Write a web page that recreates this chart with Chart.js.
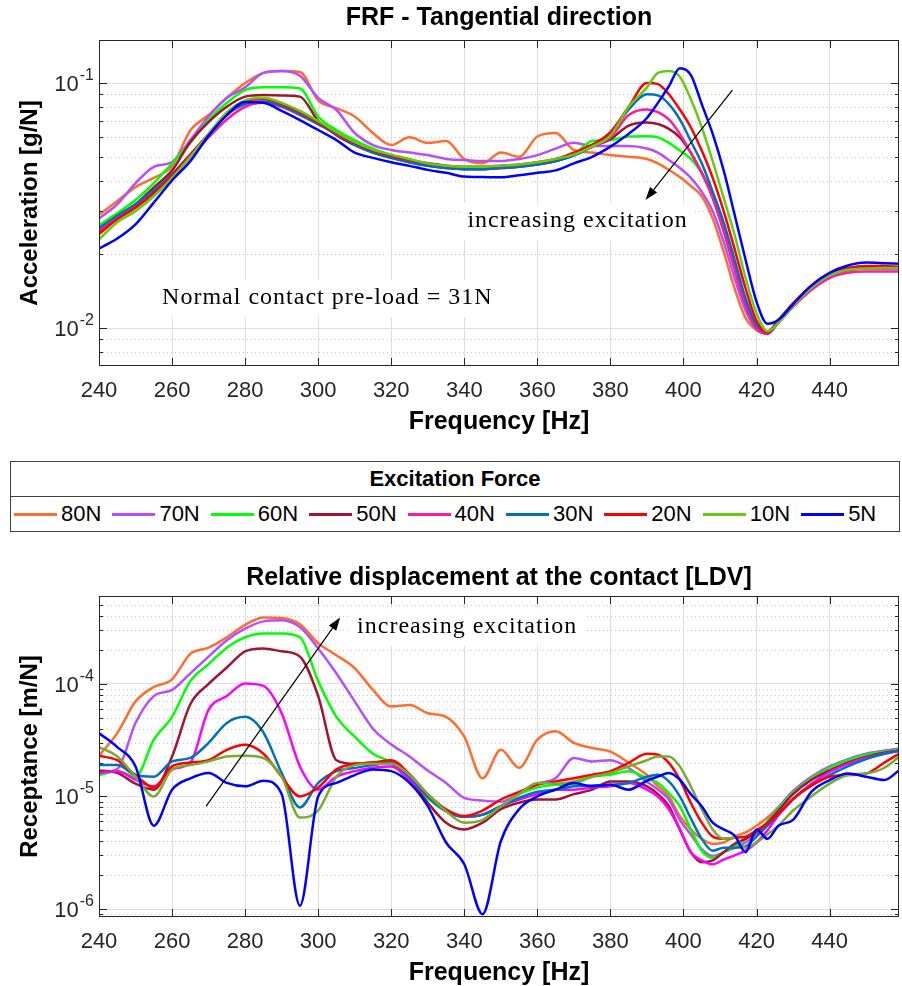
<!DOCTYPE html>
<html>
<head>
<meta charset="utf-8">
<script src="https://cdn.jsdelivr.net/npm/chart.js@4.4.1/dist/chart.umd.min.js"></script>
<style>
  html, body { margin: 0; padding: 0; background: #fff; }
  body { width: 902px; height: 986px; position: relative; overflow: hidden; }
  #accChart { position: absolute; left: 0; top: 0; }
  #recChart { position: absolute; left: 0; top: 560px; }
  #legend {
    position: absolute; left: 10px; top: 461px; width: 890px; height: 71px;
    border: 1.5px solid #404040; box-sizing: border-box; background: #fff;
    font-family: "Liberation Sans", Arial, sans-serif;
  }
  .lg-title {
    height: 34px; line-height: 34px; text-align: center; font-weight: bold; font-size: 22px;
    border-bottom: 1.5px solid #404040; color: #000;
  }
  .lg-items { display: flex; align-items: center; height: 34px; padding-left: 3px; }
  .lg-item { flex: none; width: 98.4px; display: flex; align-items: center; }
  .lg-swatch { width: 43px; height: 3px; margin-right: 4px; }
  .lg-label { font-size: 22px; color: #000; }
</style>
</head>
<body>
<canvas id="accChart" width="902" height="440"></canvas>
<div id="legend">
  <div class="lg-title">Excitation Force</div>
  <div class="lg-items" id="lgItems"></div>
</div>
<canvas id="recChart" width="902" height="426"></canvas>

<script>
// frekuensi (Hz)
const freq = [240,245,250,255,260,265,270,275,280,285,290,295,300,305,310,315,320,325,330,335,340,345,350,355,360,365,370,375,380,385,390,
  393,396,399,402,405,408,411,414,417,420,423,426,
  430,435,440,445,450,455,459];

const forces = ['80N','70N','60N','50N','40N','30N','20N','10N','5N'];
const topColors = ['#ff6c2e','#b64dff','#00ff00','#a2142f','#ff1aa0','#0072bd','#ff0000','#66cc11','#0000ff'];
const botColors = ['#ff6c2e','#b64dff','#00ff00','#a2142f','#ff00ff','#0072bd','#ff0000','#77ac30','#0000ff'];

const xTicks = [240,260,280,300,320,340,360,380,400,420,440];
const accDecades = [0.01, 0.1];
const recDecades = [1e-6, 1e-5, 1e-4];

// Accelerance [g/N]
const acc80 = [0.029,0.033,0.0376,0.041,0.0458,0.064,0.074,0.087,0.100,0.110,0.112,0.111,0.085,0.079,0.073,0.0625,0.0558,0.060,0.057,0.058,0.049,0.047,0.052,0.050,0.0605,0.0625,0.0533,0.052,0.0508,0.050,0.049,
  0.047,0.0442,0.0413,0.038,0.0345,0.028,0.0205,0.0145,0.011,0.0098,0.0095,0.0106,
  0.0125,0.0147,0.0163,0.0172,0.0175,0.0176,0.0176];
const acc70 = [0.028,0.032,0.039,0.0455,0.0476,0.0585,0.073,0.087,0.096,0.110,0.112,0.107,0.087,0.0776,0.0625,0.0558,0.0533,0.052,0.0508,0.049,0.0485,0.048,0.048,0.049,0.0508,0.054,0.057,0.0553,0.0553,0.0553,0.054,
  0.052,0.0485,0.045,0.041,0.036,0.030,0.0225,0.016,0.0118,0.0099,0.0095,0.0106,
  0.0124,0.0146,0.0163,0.0172,0.0175,0.0175,0.0175];
const acc60 = [0.0263,0.0294,0.0333,0.039,0.047,0.057,0.0706,0.083,0.0936,0.096,0.096,0.095,0.073,0.0643,0.0585,0.054,0.0508,0.048,0.047,0.046,0.045,0.045,0.0452,0.0458,0.0465,0.048,0.051,0.058,0.0585,0.0605,0.0607,
  0.060,0.057,0.053,0.049,0.043,0.035,0.026,0.018,0.0127,0.0101,0.0096,0.0107,
  0.0125,0.0147,0.0164,0.0173,0.0176,0.0177,0.0177];
const acc50 = [0.0246,0.0285,0.032,0.0375,0.044,0.0575,0.0693,0.080,0.088,0.0893,0.089,0.088,0.070,0.0613,0.0558,0.052,0.0495,0.0475,0.046,0.045,0.0445,0.0445,0.045,0.0455,0.0465,0.048,0.051,0.055,0.059,0.067,0.069,
  0.068,0.065,0.060,0.052,0.043,0.034,0.025,0.0175,0.0125,0.0100,0.0095,0.0106,
  0.0125,0.0148,0.0165,0.0173,0.0176,0.0176,0.0176];
const acc40 = [0.025,0.0285,0.0315,0.036,0.042,0.050,0.060,0.071,0.080,0.083,0.080,0.074,0.068,0.062,0.0565,0.0525,0.050,0.048,0.0465,0.0455,0.045,0.045,0.0455,0.046,0.047,0.0485,0.051,0.055,0.060,0.074,0.078,
  0.076,0.071,0.062,0.052,0.043,0.034,0.025,0.0175,0.0125,0.0100,0.0095,0.0105,
  0.0122,0.0143,0.016,0.0168,0.017,0.017,0.017];
const acc30 = [0.0256,0.0288,0.032,0.0365,0.0425,0.051,0.061,0.074,0.082,0.084,0.0805,0.0745,0.068,0.062,0.056,0.052,0.0495,0.0475,0.046,0.045,0.0445,0.0445,0.045,0.0455,0.0465,0.048,0.0505,0.055,0.062,0.078,0.090,
  0.089,0.082,0.071,0.058,0.047,0.036,0.027,0.019,0.0132,0.0103,0.0097,0.0108,
  0.0126,0.0148,0.0165,0.0174,0.0177,0.0177,0.0177];
const acc20 = [0.0242,0.0278,0.031,0.0355,0.042,0.051,0.062,0.075,0.084,0.086,0.082,0.076,0.069,0.0625,0.057,0.053,0.0505,0.0485,0.047,0.046,0.0455,0.0455,0.046,0.0465,0.0475,0.049,0.052,0.056,0.063,0.080,0.100,
  0.099,0.090,0.078,0.066,0.053,0.041,0.030,0.021,0.0145,0.0107,0.0096,0.0107,
  0.0126,0.0149,0.0167,0.0176,0.0179,0.0179,0.0178];
const acc10 = [0.023,0.027,0.030,0.0345,0.041,0.050,0.062,0.076,0.085,0.087,0.083,0.077,0.070,0.063,0.0575,0.0535,0.051,0.049,0.047,0.046,0.0455,0.0455,0.046,0.0465,0.0475,0.049,0.051,0.055,0.061,0.080,0.096,
  0.110,0.112,0.106,0.086,0.066,0.048,0.034,0.024,0.016,0.0115,0.0097,0.0105,
  0.0123,0.0146,0.0164,0.0173,0.0175,0.0176,0.0176];
const acc5 = [0.0211,0.0232,0.0265,0.0325,0.040,0.048,0.061,0.074,0.0837,0.083,0.077,0.0706,0.0643,0.0585,0.052,0.0495,0.0475,0.0459,0.0442,0.043,0.0415,0.0413,0.0412,0.042,0.043,0.044,0.047,0.050,0.055,0.062,0.072,
  0.083,0.097,0.115,0.108,0.082,0.062,0.044,0.029,0.019,0.0128,0.0104,0.0108,
  0.0125,0.0149,0.0168,0.0180,0.0185,0.0184,0.0183];

// Receptance [m/N]
const rec80 = [2.3e-5,3.66e-5,7e-5,9.4e-5,1.1e-4,1.85e-4,2.1e-4,2.6e-4,3.35e-4,3.9e-4,3.85e-4,3.4e-4,2.3e-4,1.8e-4,1.38e-4,8.85e-5,6.3e-5,6.5e-5,5.5e-5,5.1e-5,3.4e-5,1.45e-5,2.6e-5,1.8e-5,3.2e-5,3.8e-5,3e-5,2.7e-5,2.5e-5,2e-5,1.55e-5,
  1.23e-5,1e-5,6.7e-6,5.1e-6,4.2e-6,3.8e-6,3.9e-6,4.4e-6,4.8e-6,5.5e-6,6.5e-6,8e-6,
  1.1e-5,1.45e-5,1.8e-5,2.1e-5,2.35e-5,2.55e-5,2.65e-5];
const rec70 = [1.62e-5,1.75e-5,4.5e-5,7.8e-5,8.85e-5,1.24e-4,1.75e-4,2.45e-4,3.1e-4,3.6e-4,3.68e-4,3.2e-4,2.07e-4,1.24e-4,7e-5,4e-5,2.9e-5,2.27e-5,1.7e-5,1.32e-5,9.7e-6,9.2e-6,9e-6,1.07e-5,1.3e-5,1.45e-5,2.2e-5,2.05e-5,2.1e-5,1.79e-5,1.35e-5,
  1.15e-5,9.4e-6,6.2e-6,4.6e-6,3.4e-6,2.96e-6,3.2e-6,3.5e-6,3.9e-6,4.6e-6,6e-6,8e-6,
  1.12e-5,1.5e-5,1.85e-5,2.15e-5,2.4e-5,2.55e-5,2.65e-5];
const rec60 = [1.55e-5,1.68e-5,1.5e-5,3.2e-5,5.1e-5,1.06e-4,1.5e-4,2.1e-4,2.6e-4,2.81e-4,2.81e-4,2.6e-4,1.06e-4,5.1e-5,3.4e-5,2.4e-5,2e-5,1.35e-5,9.6e-6,7.4e-6,6.6e-6,6.9e-6,8.2e-6,1.05e-5,1.2e-5,1.27e-5,1.3e-5,1.5e-5,1.56e-5,1.68e-5,1.45e-5,
  1.32e-5,1.07e-5,8.2e-6,5.1e-6,3.3e-6,2.85e-6,3.2e-6,3.6e-6,4.2e-6,4.8e-6,6e-6,7.8e-6,
  1.08e-5,1.45e-5,1.8e-5,2.1e-5,2.35e-5,2.5e-5,2.6e-5];
const rec50 = [1.7e-5,1.62e-5,1.3e-5,1.15e-5,2.27e-5,6.6e-5,1e-4,1.4e-4,1.95e-4,2.07e-4,1.95e-4,1.75e-4,7.8e-5,2.1e-5,1.95e-5,2e-5,1.95e-5,1.41e-5,8.8e-6,5.85e-6,5.1e-6,5.85e-6,7.7e-6,8.8e-6,9.4e-6,9.4e-6,1.05e-5,1.15e-5,1.36e-5,1.36e-5,1.23e-5,
  1.05e-5,8.2e-6,5.1e-6,3.2e-6,2.6e-6,2.7e-6,3.2e-6,3.8e-6,4.2e-6,4.8e-6,5.8e-6,7.5e-6,
  1.05e-5,1.4e-5,1.7e-5,2e-5,2.25e-5,2.45e-5,2.55e-5];
const rec40 = [1.62e-5,1.68e-5,1.41e-5,1.23e-5,1.74e-5,2e-5,5.9e-5,7.8e-5,1.01e-4,9.6e-5,5.5e-5,1.85e-5,1.15e-5,1.5e-5,1.68e-5,1.8e-5,1.85e-5,1.41e-5,1e-5,7.4e-6,6.6e-6,6.9e-6,8.2e-6,9.4e-6,1.05e-5,1.15e-5,1.15e-5,1.2e-5,1.23e-5,1.32e-5,1.15e-5,
  1e-5,7.7e-6,5.1e-6,3.2e-6,2.7e-6,2.5e-6,2.75e-6,3e-6,3.3e-6,3.9e-6,5e-6,6.8e-6,
  9.5e-6,1.3e-5,1.65e-5,1.95e-5,2.2e-5,2.4e-5,2.55e-5];
const rec30 = [1.9e-5,1.9e-5,1.55e-5,1.5e-5,2.05e-5,2.2e-5,3e-5,4.5e-5,5.1e-5,3.7e-5,1.62e-5,8e-6,1.32e-5,1.68e-5,1.79e-5,1.9e-5,2e-5,1.5e-5,1e-5,7.4e-6,6.6e-6,6.9e-6,8.2e-6,9.7e-6,1.1e-5,1.15e-5,1.23e-5,1.25e-5,1.27e-5,1.32e-5,1.5e-5,
  1.56e-5,1.36e-5,1e-5,6.4e-6,4.2e-6,3.3e-6,3.5e-6,3.5e-6,3.6e-6,4.4e-6,5.5e-6,7e-6,
  9.5e-6,1.25e-5,1.55e-5,1.85e-5,2.15e-5,2.4e-5,2.55e-5];
const rec20 = [2.3e-5,2.1e-5,1.55e-5,1.2e-5,1.85e-5,2e-5,2.1e-5,2.6e-5,2.88e-5,2.4e-5,1.5e-5,1e-5,1.2e-5,1.74e-5,1.95e-5,2e-5,2.1e-5,1.58e-5,1.05e-5,7.7e-6,6.7e-6,7.5e-6,9.4e-6,1.1e-5,1.27e-5,1.36e-5,1.45e-5,1.56e-5,1.68e-5,1.99e-5,2.4e-5,
  2.35e-5,1.99e-5,1.41e-5,8.8e-6,5.85e-6,4.4e-6,4.2e-6,4.3e-6,4.4e-6,5e-6,5.8e-6,7e-6,
  9.5e-6,1.25e-5,1.5e-5,1.55e-5,1.6e-5,2e-5,2.4e-5];
const rec10 = [2.75e-5,2.27e-5,1.5e-5,1e-5,1.74e-5,1.9e-5,2.05e-5,2.27e-5,2.3e-5,2.2e-5,1.5e-5,6.5e-6,7.5e-6,1.5e-5,1.9e-5,1.95e-5,1.95e-5,1.55e-5,1.05e-5,7.4e-6,5.85e-6,6.2e-6,8.2e-6,1.05e-5,1.32e-5,1.3e-5,1.36e-5,1.5e-5,1.62e-5,1.85e-5,2.1e-5,
  2.27e-5,2.27e-5,1.85e-5,1.23e-5,7.7e-6,5.1e-6,4.2e-6,4.3e-6,3.5e-6,3.9e-6,4.6e-6,5.5e-6,
  7.5e-6,1e-5,1.3e-5,1.55e-5,1.6e-5,1.8e-5,2.25e-5];
const rec5 = [3.66e-5,2.75e-5,1.85e-5,5.5e-6,1.15e-5,1.45e-5,1.62e-5,1.32e-5,1.23e-5,1.38e-5,1.05e-5,1.07e-6,1e-5,1.32e-5,1.55e-5,1.74e-5,1.68e-5,1.32e-5,8.2e-6,3.9e-6,2.5e-6,9e-7,4e-6,7.7e-6,1e-5,1.15e-5,1.32e-5,1.23e-5,1.27e-5,1.15e-5,1.38e-5,
  1.5e-5,1.62e-5,1.41e-5,1.05e-5,8.2e-6,5.85e-6,5.1e-6,4.5e-6,3.2e-6,5.1e-6,4.2e-6,5.5e-6,
  6.2e-6,1.1e-5,1.4e-5,1.6e-5,1.5e-5,1.4e-5,1.7e-5];

const FONT = '"Liberation Sans", Arial, Helvetica, sans-serif';
const SERIF = '"Liberation Serif", "Times New Roman", serif';
Chart.defaults.font.family = FONT;

function line(ctx, x1, y1, x2, y2) {
    ctx.beginPath();
    ctx.moveTo(x1, y1);
    ctx.lineTo(x2, y2);
    ctx.stroke();
}

// grid minor titik-titik, bingkai, label sumbu, judul dan anotasi
const framePlugin = {
    id: 'frame',
    beforeDatasetsDraw(chart, args, o) {
        const { ctx, chartArea: a, scales: { y } } = chart;
        ctx.save();
        ctx.strokeStyle = '#c6c6c6';
        ctx.lineWidth = 1;
        ctx.setLineDash([1, 3]);
        o.minorDecades.forEach(d => {
            for (let m = 2; m < 10; m++) {
                const v = d * m;
                if (v <= y.min || v >= y.max) continue;
                const py = Math.round(y.getPixelForValue(v)) + 0.5;
                line(ctx, a.left, py, a.right, py);
            }
        });
        ctx.restore();
    },
    afterDatasetsDraw(chart, args, o) {
        const { ctx, chartArea: a, scales: { x, y } } = chart;
        ctx.save();

        // teks anotasi dengan latar putih
        ctx.font = '24px ' + SERIF;
        ctx.letterSpacing = '1px';
        ctx.textAlign = 'center';
        ctx.textBaseline = 'middle';
        o.notes.forEach(n => {
            const px = x.getPixelForValue(n.x), py = y.getPixelForValue(n.y);
            const w = ctx.measureText(n.text).width;
            ctx.fillStyle = '#fff';
            ctx.fillRect(px - w / 2 - 7, py - 18, w + 14, 37);
            ctx.fillStyle = '#000';
            ctx.fillText(n.text, px, py);
        });
        ctx.letterSpacing = '0px';

        // panah
        ctx.strokeStyle = '#000';
        ctx.fillStyle = '#000';
        ctx.lineWidth = 1.2;
        o.arrows.forEach(ar => {
            const x1 = x.getPixelForValue(ar.from[0]), y1 = y.getPixelForValue(ar.from[1]);
            const x2 = x.getPixelForValue(ar.to[0]), y2 = y.getPixelForValue(ar.to[1]);
            const ang = Math.atan2(y2 - y1, x2 - x1);
            const hl = 13, hw = 4.5;
            const bx = x2 - hl * Math.cos(ang), by = y2 - hl * Math.sin(ang);
            line(ctx, x1, y1, bx, by);
            ctx.beginPath();
            ctx.moveTo(x2, y2);
            ctx.lineTo(bx + hw * Math.sin(ang), by - hw * Math.cos(ang));
            ctx.lineTo(bx - hw * Math.sin(ang), by + hw * Math.cos(ang));
            ctx.closePath();
            ctx.fill();
        });

        // bingkai dan tick ke dalam
        ctx.strokeStyle = '#262626';
        ctx.lineWidth = 1;
        ctx.strokeRect(a.left + 0.5, a.top + 0.5, a.width - 1, a.height - 1);
        xTicks.forEach(t => {
            const px = Math.round(x.getPixelForValue(t)) + 0.5;
            line(ctx, px, a.bottom, px, a.bottom - 8);
            line(ctx, px, a.top, px, a.top + 8);
        });
        o.majors.forEach(d => {
            const py = Math.round(y.getPixelForValue(d)) + 0.5;
            line(ctx, a.left, py, a.left + 8, py);
            line(ctx, a.right, py, a.right - 8, py);
        });
        o.minorDecades.forEach(d => {
            for (let m = 2; m < 10; m++) {
                const v = d * m;
                if (v <= y.min || v >= y.max) continue;
                const py = Math.round(y.getPixelForValue(v)) + 0.5;
                line(ctx, a.left, py, a.left + 4, py);
                line(ctx, a.right, py, a.right - 4, py);
            }
        });

        // label sumbu y: 10 pangkat
        ctx.fillStyle = '#262626';
        ctx.textBaseline = 'alphabetic';
        o.majors.forEach(d => {
            const py = y.getPixelForValue(d);
            const ex = String(Math.round(Math.log10(d)));
            ctx.font = '16px ' + FONT;
            const ew = ctx.measureText(ex).width;
            ctx.textAlign = 'left';
            ctx.fillText(ex, a.left - 5 - ew, py - 3);
            ctx.font = '22px ' + FONT;
            ctx.textAlign = 'right';
            ctx.fillText('10', a.left - 6 - ew, py + 8);
        });

        // judul
        ctx.fillStyle = '#000';
        ctx.font = 'bold 25px ' + FONT;
        ctx.textAlign = 'center';
        ctx.textBaseline = 'middle';
        ctx.fillText(o.title, (a.left + a.right) / 2, 18);
        ctx.fillText('Frequency [Hz]', (a.left + a.right) / 2, a.bottom + 56);
        ctx.translate(30, (a.top + a.bottom) / 2);
        ctx.rotate(-Math.PI / 2);
        ctx.font = 'bold 24px ' + FONT;
        ctx.fillText(o.yTitle, 0, 0);
        ctx.restore();
    }
};

function makeChart(id, series, colors, cfg) {
    const datasets = series.map((s, i) => ({
        label: forces[i],
        data: s.map((v, k) => ({ x: freq[k], y: v })),
        borderColor: colors[i],
        backgroundColor: colors[i],
        borderWidth: 2.5,
        pointRadius: 0,
        cubicInterpolationMode: 'monotone',
        fill: false,
        order: series.length - i
    }));
    return new Chart(document.getElementById(id), {
        type: 'line',
        data: { datasets },
        options: {
            responsive: false,
            animation: false,
            events: [],
            layout: { padding: { top: cfg.top, right: 3, left: 0, bottom: 0 } },
            plugins: {
                legend: { display: false },
                title: { display: false },
                tooltip: { enabled: false },
                frame: cfg.frame
            },
            scales: {
                x: {
                    type: 'linear',
                    min: 240,
                    max: 459,
                    afterBuildTicks: s => { s.ticks = xTicks.map(v => ({ value: v })); },
                    afterFit: s => { s.height = cfg.xHeight; },
                    grid: { color: '#dedede', lineWidth: 1, drawTicks: false },
                    border: { display: false },
                    ticks: { color: '#262626', font: { size: 22 }, padding: 12, maxRotation: 0 }
                },
                y: {
                    type: 'logarithmic',
                    min: cfg.ymin,
                    max: cfg.ymax,
                    afterBuildTicks: s => { s.ticks = cfg.frame.majors.map(v => ({ value: v })); },
                    afterFit: s => { s.width = 99; },
                    grid: { color: '#dedede', lineWidth: 1, drawTicks: false },
                    border: { display: false },
                    ticks: { display: false }
                }
            }
        },
        plugins: [framePlugin]
    });
}

makeChart('accChart', [acc80, acc70, acc60, acc50, acc40, acc30, acc20, acc10, acc5], topColors, {
    top: 40, xHeight: 74, ymin: 0.0070, ymax: 0.1498,
    frame: {
        title: 'FRF - Tangential direction',
        yTitle: 'Acceleration [g/N]',
        majors: accDecades,
        minorDecades: [0.001, 0.01, 0.1],
        notes: [
            { text: 'Normal contact pre-load = 31N', x: 302.5, y: 0.01326 },
            { text: 'increasing excitation', x: 371, y: 0.02735 }
        ],
        arrows: [{ from: [413.4, 0.0936], to: [389.6, 0.0333] }]
    }
});

makeChart('recChart', [rec80, rec70, rec60, rec50, rec40, rec30, rec20, rec10, rec5], botColors, {
    top: 36, xHeight: 69, ymin: 8.49e-7, ymax: 6.05e-4,
    frame: {
        title: 'Relative displacement at the contact [LDV]',
        yTitle: 'Receptance [m/N]',
        majors: recDecades,
        minorDecades: [1e-7, 1e-6, 1e-5, 1e-4],
        notes: [{ text: 'increasing excitation', x: 340.8, y: 3.24e-4 }],
        arrows: [{ from: [269.3, 8.16e-6], to: [306, 3.9e-4] }]
    }
});

// legenda di tengah
const lgItems = document.getElementById('lgItems');
forces.forEach((f, i) => {
    const item = document.createElement('div');
    item.className = 'lg-item';
    const sw = document.createElement('div');
    sw.className = 'lg-swatch';
    sw.style.background = topColors[i];
    const lb = document.createElement('span');
    lb.className = 'lg-label';
    lb.textContent = f;
    item.appendChild(sw);
    item.appendChild(lb);
    lgItems.appendChild(item);
});
</script>
</body>
</html>
